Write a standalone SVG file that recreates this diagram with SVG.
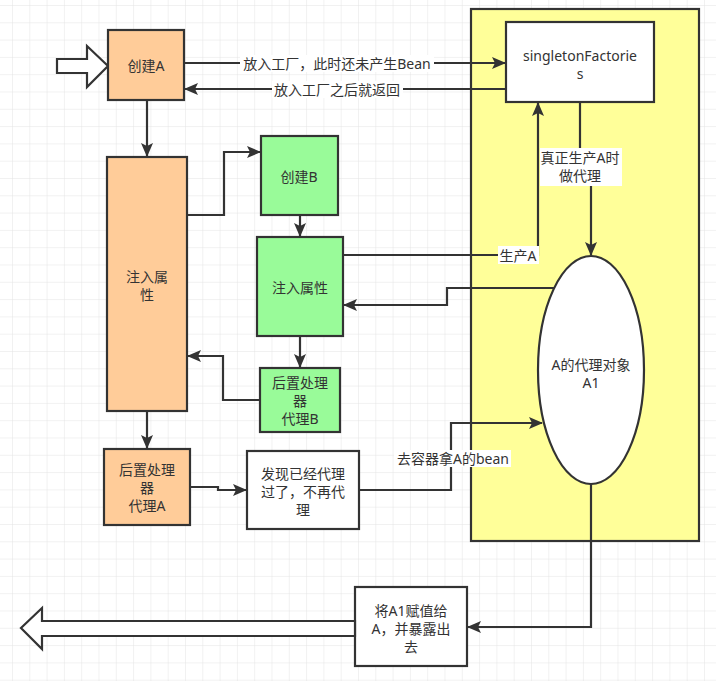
<svg xmlns="http://www.w3.org/2000/svg" width="716" height="681" viewBox="0 0 716 681">
<defs>
<pattern id="grid" x="12" y="5" width="17.3" height="17.3" patternUnits="userSpaceOnUse">
<path d="M0,0 H17.3 M0,0 V17.3" fill="none" stroke="#e4e4e4" stroke-width="1"/>
</pattern>
<marker id="ah" markerUnits="userSpaceOnUse" markerWidth="14" markerHeight="12" viewBox="0 0 14 12" refX="13" refY="6" orient="auto">
<path d="M0,0 L14,6 L0,12 L3,6 Z" fill="#333"/>
</marker>
</defs>
<style>
.box{stroke:#333;stroke-width:2.2}
.orange{fill:#ffcc99}
.green{fill:#99fb99}
.white{fill:#fff}
.yellow{fill:#ffff99}
text{font-family:"Noto Sans","Noto Sans CJK SC",sans-serif;font-size:14px;fill:#333;text-anchor:middle;dominant-baseline:central}
tspan{dominant-baseline:central}
.conn path,.conn line{fill:none;stroke:#333;stroke-width:2.2}
.lbl{fill:#fff}
</style>
<rect width="716" height="681" fill="#fff"/>
<rect width="716" height="681" fill="url(#grid)"/>

<g id="container">
<rect class="box yellow" x="471" y="9" width="228" height="532"/>
</g>

<g id="startArrow">
<polygon class="box white" points="57,59 87,59 87,46 108,66 87,87 87,73 57,73"/>
</g>

<g id="createA">
<rect class="box orange" x="108" y="30" width="76" height="70"/>
<text x="146" y="65">创建A</text>
</g>

<g id="injectA">
<rect class="box orange" x="107" y="157" width="80" height="254"/>
<text x="147" y="276"><tspan x="147" y="276">注入属</tspan><tspan x="147" y="294">性</tspan></text>
</g>

<g id="postA">
<rect class="box orange" x="104" y="449" width="86" height="76"/>
<text x="147" y="470"><tspan x="147" y="469">后置处理</tspan><tspan x="147" y="487">器</tspan><tspan x="147" y="505">代理A</tspan></text>
</g>

<g id="createB">
<rect class="box green" x="261" y="136" width="77" height="79"/>
<text x="299" y="176">创建B</text>
</g>

<g id="injectB">
<rect class="box green" x="257" y="237" width="86" height="99"/>
<text x="300" y="287">注入属性</text>
</g>

<g id="postB">
<rect class="box green" x="260" y="368" width="80" height="64"/>
<text x="300" y="383"><tspan x="300" y="382">后置处理</tspan><tspan x="300" y="400">器</tspan><tspan x="300" y="418">代理B</tspan></text>
</g>

<g id="found">
<rect class="box white" x="247" y="451" width="112" height="78"/>
<text x="303" y="473"><tspan x="303" y="473">发现已经代理</tspan><tspan x="303" y="491">过了，不再代</tspan><tspan x="303" y="509">理</tspan></text>
</g>

<g id="singletonFactories">
<rect class="box white" x="506" y="22" width="148" height="80"/>
<text x="580" y="55"><tspan x="580" y="55">singletonFactorie</tspan><tspan x="580" y="73">s</tspan></text>
</g>

<g id="proxyA1">
<ellipse class="box white" cx="591" cy="370" rx="53" ry="114"/>
<text x="591" y="364"><tspan x="591" y="364">A的代理对象</tspan><tspan x="591" y="382">A1</tspan></text>
</g>

<g id="assign">
<rect class="box white" x="355" y="587" width="112" height="79"/>
<text x="411" y="610"><tspan x="411" y="610">将A1赋值给</tspan><tspan x="411" y="628">A，并暴露出</tspan><tspan x="411" y="646">去</tspan></text>
</g>

<g id="endArrow">
<polygon class="box white" points="355,621 42,621 42,608 21,628 42,649 42,636 355,636"/>
</g>

<g id="connectors" class="conn">
<line x1="184" y1="63" x2="505" y2="63" marker-end="url(#ah)"/>
<line x1="505" y1="89" x2="185" y2="89" marker-end="url(#ah)"/>
<line x1="147" y1="100" x2="147" y2="156" marker-end="url(#ah)"/>
<path d="M187,215 H224 V152 H260" marker-end="url(#ah)"/>
<line x1="300" y1="215" x2="300" y2="236" marker-end="url(#ah)"/>
<line x1="300" y1="336" x2="300" y2="367" marker-end="url(#ah)"/>
<path d="M260,400 H223 V356 H188" marker-end="url(#ah)"/>
<line x1="147" y1="411" x2="147" y2="448" marker-end="url(#ah)"/>
<path d="M190,487 H218 V490 H246" marker-end="url(#ah)"/>
<path d="M343,255 H538 V103" marker-end="url(#ah)"/>
<path d="M580,102 V166 H591 V255" marker-end="url(#ah)"/>
<path d="M554,288 H447 V305 H344" marker-end="url(#ah)"/>
<path d="M359,490 H451 V423 H542" marker-end="url(#ah)"/>
<path d="M591,484 V627 H468" marker-end="url(#ah)"/>
</g>

<g id="labels">
<rect class="lbl" x="240" y="55" width="194" height="17"/>
<text x="337" y="63">放入工厂，此时还未产生Bean</text>
<rect class="lbl" x="272" y="81" width="131" height="17"/>
<text x="337" y="89">放入工厂之后就返回</text>
<rect class="lbl" x="498" y="246" width="41" height="18"/>
<text x="518" y="255">生产A</text>
<rect class="lbl" x="540" y="148" width="82" height="38"/>
<text x="580" y="157"><tspan x="580" y="157">真正生产A时</tspan><tspan x="580" y="175">做代理</tspan></text>
<rect class="lbl" x="394" y="450" width="117" height="17"/>
<text x="453" y="458">去容器拿A的bean</text>
</g>
</svg>
